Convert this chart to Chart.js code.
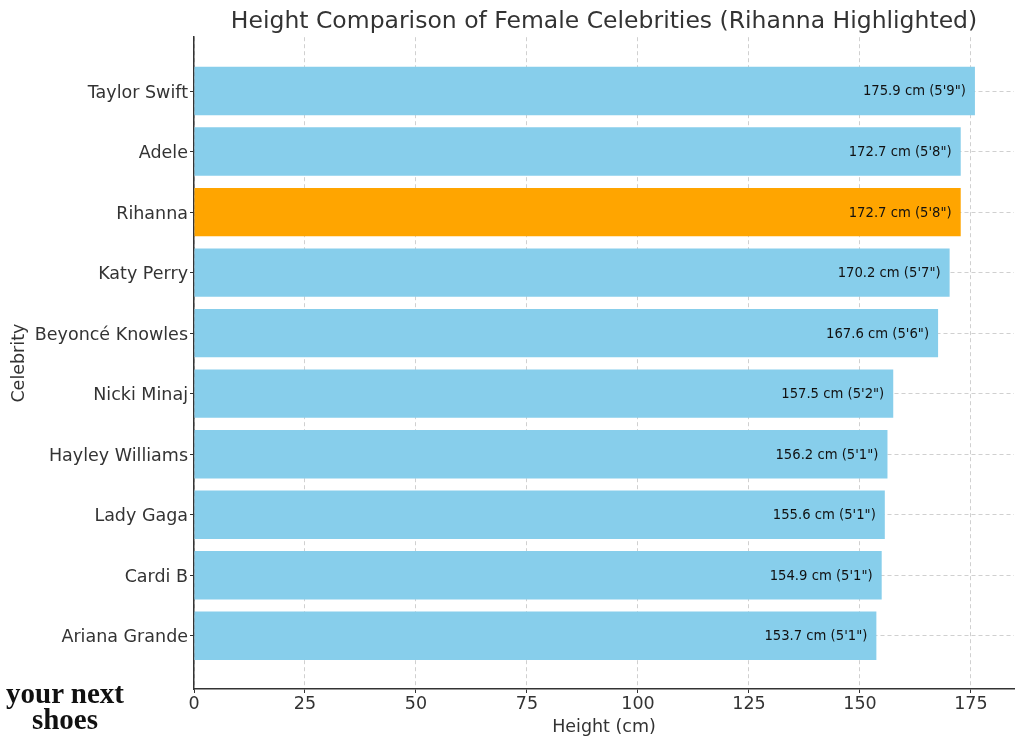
<!DOCTYPE html>
<html>
<head>
<meta charset="utf-8">
<title>Height Comparison</title>
<script src="https://cdn.jsdelivr.net/npm/chart.js@4"></script>
<style>
  body { margin: 0; background: #fff; }
  #wrap { position: relative; width: 1024px; height: 746px; }
  #mark {
    position: absolute; left: 0; top: 680px; width: 130px; text-align: center;
    font: bold 29px/26px "Liberation Serif", serif; color: #111;
  }
</style>
</head>
<body>
<div id="wrap">
  <canvas id="chart" width="1024" height="746"></canvas>
  <div id="mark">your next<br>shoes</div>
</div>
<script>
const celebrities = ['Taylor Swift', 'Adele', 'Rihanna', 'Katy Perry', 'Beyoncé Knowles', 'Nicki Minaj', 'Hayley Williams', 'Lady Gaga', 'Cardi B', 'Ariana Grande'];
const heights = [175.9, 172.7, 172.7, 170.2, 167.6, 157.5, 156.2, 155.6, 154.9, 153.7];
const feet = ['5\'9"', '5\'8"', '5\'8"', '5\'7"', '5\'6"', '5\'2"', '5\'1"', '5\'1"', '5\'1"', '5\'1"'];
const xTicks = [0, 25, 50, 75, 100, 125, 150, 175];
const highlighted = 'Rihanna';

const font = 'DejaVu Sans';
const gridColor = 'rgba(170,170,170,0.55)';

// draws the "175.9 cm (5'9")" text inside the end of each bar
const valueLabels = {
    id: 'valueLabels',
    afterDatasetsDraw(chart) {
        const ctx = chart.ctx;
        ctx.save();
        ctx.font = `13.2px "${font}"`;
        ctx.fillStyle = '#111';
        ctx.textAlign = 'right';
        ctx.textBaseline = 'middle';
        chart.getDatasetMeta(0).data.forEach((bar, i) => {
            ctx.fillText(`${heights[i]} cm (${feet[i]})`, bar.x - 9, bar.y + 1);
        });
        ctx.restore();
    }
};

new Chart(document.getElementById('chart'), {
    type: 'bar',
    data: {
        datasets: [{
            data: heights.map((h, i) => ({ x: h, y: i })),
            backgroundColor: celebrities.map(c => c === highlighted ? '#FFA500' : '#87CEEB'),
            barPercentage: 0.8,
            categoryPercentage: 1
        }]
    },
    plugins: [valueLabels],
    options: {
        indexAxis: 'y',
        responsive: false,
        animation: false,
        layout: { padding: { right: 10 } },
        plugins: {
            legend: { display: false },
            tooltip: { enabled: false },
            title: {
                display: true,
                fullSize: false,
                text: 'Height Comparison of Female Celebrities (Rihanna Highlighted)',
                color: '#333',
                font: { family: font, size: 23.5, weight: 'normal' },
                padding: { top: 8, bottom: 1 }
            }
        },
        scales: {
            x: {
                type: 'linear',
                min: 0,
                max: 184.7,
                afterBuildTicks: scale => { scale.ticks = xTicks.map(v => ({ value: v })); },
                afterFit: scale => { scale.height = 57; },
                title: {
                    display: true,
                    text: 'Height (cm)',
                    color: '#333',
                    font: { family: font, size: 17.5 },
                    padding: { top: 2, bottom: 8 }
                },
                ticks: {
                    color: '#333',
                    font: { family: font, size: 17.5 },
                    maxRotation: 0,
                    padding: 1
                },
                grid: {
                    color: gridColor,
                    tickColor: '#333',
                    tickLength: 4,
                    tickBorderDash: []
                },
                border: { display: true, color: '#333', width: 1.5, dash: [4, 3] }
            },
            y: {
                type: 'linear',
                reverse: true,
                offset: false,
                min: -0.89,
                max: 9.88,
                afterBuildTicks: scale => { scale.ticks = celebrities.map((c, i) => ({ value: i })); },
                afterFit: scale => { scale.width = 194; },
                title: {
                    display: true,
                    text: 'Celebrity',
                    color: '#333',
                    font: { family: font, size: 17.5 },
                    padding: { top: 9, bottom: 0 }
                },
                ticks: {
                    color: '#333',
                    font: { family: font, size: 17.5 },
                    padding: 2,
                    labelOffset: 2,
                    callback: v => celebrities[v]
                },
                grid: {
                    offset: false,
                    color: gridColor,
                    tickColor: '#333',
                    tickLength: 4,
                    tickBorderDash: []
                },
                border: { display: true, color: '#333', width: 1.5, dash: [4, 3] }
            }
        }
    }
});
</script>
</body>
</html>
